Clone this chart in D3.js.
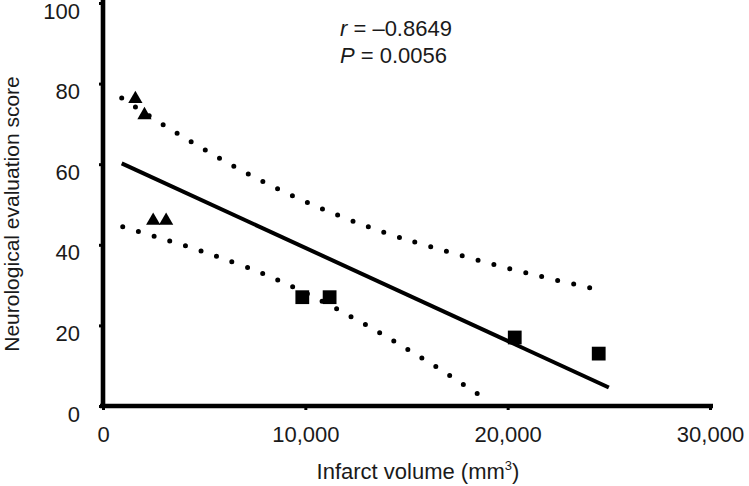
<!DOCTYPE html>
<html>
<head>
<meta charset="utf-8">
<script src="https://cdn.jsdelivr.net/npm/d3@7"></script>
<style>
  body { margin: 0; background: #fff; }
  svg { display: block; }
  text { font-family: "Liberation Sans", Arial, sans-serif; fill: #1a1a1a; }
</style>
</head>
<body>
<script>
// tick values
var xTicks = [0, 10000, 20000, 30000]
var yTicks = [0, 20, 40, 60, 80, 100]

// group A (triangles) and group B (squares): [infarct volume, score]
var triangles = [[1600, 76.2], [2050, 72.2], [2480, 46], [3120, 46]]
var squares = [[9850, 27], [11200, 27], [20350, 17], [24500, 13]]

// regression line end points
var fitLine = [[925, 60.2], [25000, 4.6]]

// 95% band
var upperBand = [[925, 76.4], [2985, 69.7], [5100, 63.3], [7240, 57.3], [9470, 51.8],
  [11730, 47.0], [14040, 42.7], [15610, 40.4], [17970, 36.9], [20360, 33.7],
  [22760, 30.8], [24360, 29.0]]
var lowerBand = [[975, 44.5], [2490, 42.2], [4060, 39.8], [5630, 37.2], [7940, 32.9],
  [9420, 29.5], [10900, 25.9], [12360, 21.9], [13800, 17.9], [15200, 13.6],
  [16600, 9.4], [17950, 4.8], [18660, 2.6]]

var stats = ["\u2013" + "0.8649", "0.0056"]

var width = 749, height = 486
var x0 = 103, x1 = 710, yTop = 3, yBottom = 406

var svg = d3.select("body").append("svg")
  .attr("width", width)
  .attr("height", height)

var x = d3.scaleLinear().domain([0, 30000]).range([x0, x1])
var y = d3.scaleLinear().domain([0, 100]).range([yBottom, yTop])

// dotted confidence curves
var band = d3.line()
  .x(function(d) { return x(d[0]) })
  .y(function(d) { return y(d[1]) })
  .curve(d3.curveBasis)

svg.selectAll(".band")
  .data([upperBand, lowerBand])
  .enter().append("path")
  .attr("class", "band")
  .attr("d", band)
  .attr("fill", "none")
  .attr("stroke", "#000")
  .attr("stroke-width", 5)
  .attr("stroke-linecap", "round")
  .attr("stroke-dasharray", "0 16.4")

// regression line
svg.append("path")
  .attr("d", d3.line().x(function(d) { return x(d[0]) }).y(function(d) { return y(d[1]) })(fitLine))
  .attr("fill", "none")
  .attr("stroke", "#000")
  .attr("stroke-width", 4)

// markers
svg.selectAll(".tri")
  .data(triangles)
  .enter().append("path")
  .attr("class", "tri")
  .attr("d", d3.symbol().type(d3.symbolTriangle).size(88))
  .attr("transform", function(d) { return "translate(" + x(d[0]) + "," + y(d[1]) + ")" })
  .attr("fill", "#000")

svg.selectAll(".sq")
  .data(squares)
  .enter().append("path")
  .attr("class", "sq")
  .attr("d", d3.symbol().type(d3.symbolSquare).size(190))
  .attr("transform", function(d) { return "translate(" + x(d[0]) + "," + y(d[1]) + ")" })
  .attr("fill", "#000")

// axes
var xAxis = svg.append("g")
  .attr("transform", "translate(0," + yBottom + ")")
  .call(d3.axisBottom(x).tickValues(xTicks).tickSize(4).tickSizeOuter(0).tickPadding(16)
    .tickFormat(d3.format(",")))
xAxis.select(".domain").attr("stroke-width", 4.6).attr("d", "M" + (x0 - 3) + ",0H" + (x1 + 3))
xAxis.selectAll(".tick line").attr("stroke-width", 3)
xAxis.selectAll("text").style("font-size", "22px").attr("fill", "#1a1a1a")

var yAxis = svg.append("g")
  .attr("transform", "translate(" + x0 + ",0)")
  .call(d3.axisLeft(y).tickValues(yTicks).tickSize(4).tickSizeOuter(0).tickPadding(19))
yAxis.select(".domain").attr("stroke-width", 4.6).attr("d", "M0," + (yBottom + 2) + "V0")
yAxis.selectAll(".tick line").attr("stroke-width", 3)
yAxis.selectAll("text").style("font-size", "22px").attr("fill", "#1a1a1a").attr("y", 8)

// axis titles
var xt = svg.append("text")
  .attr("x", 418)
  .attr("y", 479)
  .attr("text-anchor", "middle")
  .style("font-size", "22px")
xt.append("tspan").text("Infarct volume (mm")
xt.append("tspan").attr("dy", -9).style("font-size", "13px").text("3")
xt.append("tspan").attr("dy", 9).text(")")

svg.append("text")
  .attr("transform", "translate(19,214) rotate(-90)")
  .attr("text-anchor", "middle")
  .style("font-size", "21px")
  .text("Neurological evaluation score")

// statistics
var rt = svg.append("text").attr("x", 340).attr("y", 36).style("font-size", "22px")
rt.append("tspan").style("font-style", "italic").text("r")
rt.append("tspan").text(" = " + stats[0])

var pt = svg.append("text").attr("x", 340).attr("y", 63).style("font-size", "22px")
pt.append("tspan").style("font-style", "italic").text("P")
pt.append("tspan").text(" = " + stats[1])
</script>
</body>
</html>
